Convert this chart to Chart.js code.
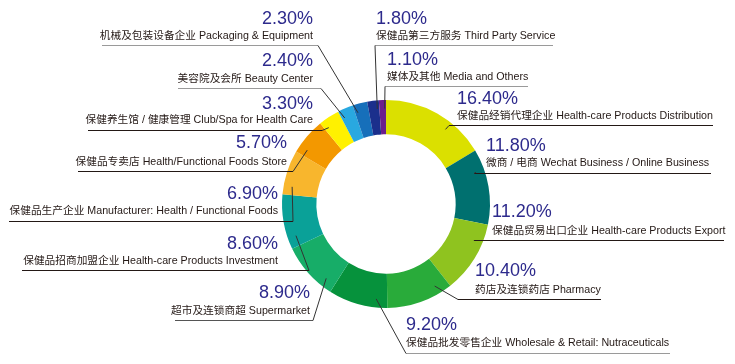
<!DOCTYPE html>
<html>
<head>
<meta charset="utf-8">
<script src="https://cdn.jsdelivr.net/npm/chart.js"></script>
<style>
  html, body { margin: 0; padding: 0; background: #fff; }
  canvas { display: block; }
</style>
</head>
<body>
<canvas id="doughnut-chart" width="735" height="364"></canvas>
<script>
const categories = [
  "保健品经销代理企业 Health-care Products Distribution",
  "微商 / 电商 Wechat Business / Online Business",
  "保健品贸易出口企业 Health-care Products Export",
  "药店及连锁药店 Pharmacy",
  "保健品批发零售企业 Wholesale & Retail: Nutraceuticals",
  "超市及连锁商超 Supermarket",
  "保健品招商加盟企业 Health-care Products Investment",
  "保健品生产企业 Manufacturer: Health / Functional Foods",
  "保健品专卖店 Health/Functional Foods Store",
  "保健养生馆 / 健康管理 Club/Spa for Health Care",
  "美容院及会所 Beauty Center",
  "机械及包装设备企业 Packaging & Equipment",
  "保健品第三方服务 Third Party Service",
  "媒体及其他 Media and Others"
];
const shares = [16.4, 11.8, 11.2, 10.4, 9.2, 8.9, 8.6, 6.9, 5.7, 3.3, 2.4, 2.3, 1.8, 1.1];
const sliceColors = ["#dbe000", "#00706f", "#8fc31f", "#29ab3a", "#06923c", "#17ad68", "#0aa198",
                     "#f8b62d", "#f39800", "#fff100", "#29a8e0", "#166fba", "#1b2f8c", "#6b1f8c"];

// where each label sits: side, text x, percent y, name y, underline y, underline far x, near x, underline colour
const labelSpots = [
  ["R", 457,  99.5, 116.5, 125, 713, 449, "#231815"],
  ["R", 486, 146.5, 163.5, 173, 711, 474, "#231815"],
  ["R", 492, 212.5, 231,   240, 724, 474, "#231815"],
  ["R", 475, 271.5, 290.5, 299, 601, 458, "#231815"],
  ["R", 406, 325,   343,   353, 670, 406, "#9a9a9a"],
  ["L", 310, 293,   311.5, 320, 175, 313, "#555555"],
  ["L", 278, 244,   261.5, 270,  22, 309, "#231815"],
  ["L", 278, 194.5, 211.5, 221,   9, 293, "#231815"],
  ["L", 287, 143,   162.5, 171,  78, 293, "#231815"],
  ["L", 313, 104.5, 120,   130,  88, 322, "#231815"],
  ["L", 313, 61,    79.5,   88, 178, 321, "#9a9a9a"],
  ["L", 313, 19,    36.5,   45, 102, 318, "#9a9a9a"],
  ["R", 376, 19,    36.5,   45, 553, 375, "#9a9a9a"],
  ["R", 387, 60,    77.5,   86, 528, 385, "#9a9a9a"]
];

const calloutPlugin = {
  id: "callouts",
  afterDatasetsDraw(chart) {
    const ctx = chart.ctx;
    const arcs = chart.getDatasetMeta(0).data;
    ctx.save();
    arcs.forEach((arc, i) => {
      const [side, tx, py, ny, ly, farX, nearX, lineColor] = labelSpots[i];
      const {x, y, startAngle, endAngle, innerRadius, outerRadius} =
        arc.getProps(["x", "y", "startAngle", "endAngle", "innerRadius", "outerRadius"], true);
      // anchor inside the slice, pulled toward the underline end
      const mid = (startAngle + endAngle) / 2;
      const half = (endAngle - startAngle) / 2;
      let diff = Math.atan2(ly - y, nearX - x) - mid;
      while (diff > Math.PI) diff -= 2 * Math.PI;
      while (diff < -Math.PI) diff += 2 * Math.PI;
      const a = mid + Math.max(-half * 0.6, Math.min(half * 0.6, diff));
      const r = innerRadius + 0.75 * (outerRadius - innerRadius);
      const ax = x + r * Math.cos(a);
      const ay = y + r * Math.sin(a);

      ctx.lineWidth = 1;
      ctx.strokeStyle = lineColor;
      ctx.beginPath();
      ctx.moveTo(farX, ly + 0.5);
      ctx.lineTo(nearX, ly + 0.5);
      ctx.stroke();
      ctx.strokeStyle = "#333333";
      ctx.beginPath();
      ctx.moveTo(nearX, ly + 0.5);
      ctx.lineTo(ax, ay);
      ctx.stroke();

      ctx.textAlign = side === "L" ? "right" : "left";
      ctx.textBaseline = "middle";
      ctx.fillStyle = "#2d2a8c";
      ctx.font = '18px "Liberation Sans", Arial, sans-serif';
      ctx.fillText(shares[i].toFixed(2) + "%", tx, py);
      ctx.fillStyle = "#231815";
      ctx.font = '10.7px "Liberation Sans", "Noto Sans CJK SC", sans-serif';
      ctx.fillText(categories[i], tx, ny);
    });
    ctx.restore();
  }
};

new Chart(document.getElementById("doughnut-chart"), {
  type: 'doughnut',
  data: {
    labels: categories,
    datasets: [{
      data: shares,
      backgroundColor: sliceColors,
      borderWidth: 0
    }]
  },
  options: {
    responsive: false,
    animation: false,
    events: [],
    cutout: '67%',
    layout: { padding: { left: 282, right: 245, top: 100, bottom: 56 } },
    plugins: {
      legend: { display: false },
      tooltip: { enabled: false }
    }
  },
  plugins: [calloutPlugin]
});
</script>
</body>
</html>
